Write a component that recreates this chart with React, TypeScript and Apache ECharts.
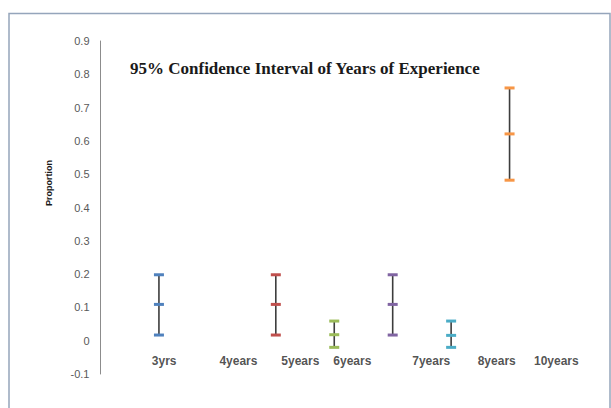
import React, { useEffect, useRef } from "react";
import * as echarts from "echarts";

// Category positions (slot index) of each interval and the x-axis labels
const intervalPositions = [0, 2, 3, 4, 5, 6];
const lows = [0.017, 0.017, -0.02, 0.017, -0.02, 0.482];
const mids = [0.109, 0.109, 0.018, 0.109, 0.016, 0.621];
const highs = [0.198, 0.198, 0.059, 0.198, 0.059, 0.759];
const palette = ["#4F81BD", "#C0504D", "#9BBB59", "#8064A2", "#4BACC6", "#F79646"];

const xLabels = ["3yrs", "4years", "5years", "6years", "7years", "8years", "10years"];
const xLabelPositions = [0.09, 1.36, 2.42, 3.31, 4.66, 5.78, 6.8];
const xLabelLevel = -0.062;

const yTicks = [-0.1, 0, 0.1, 0.2, 0.3, 0.4, 0.5, 0.6, 0.7, 0.8, 0.9];

export default function App() {
  const ref = useRef<HTMLDivElement>(null);
  useEffect(() => {
    document.body.style.margin = "0";
    const chart = echarts.init(ref.current!, null, { renderer: "svg" });
    const intervalData = intervalPositions.map((x, i) => [x, lows[i], mids[i], highs[i], i]);
    const labelData = xLabels.map((name, i) => ({ name, value: [xLabelPositions[i], xLabelLevel] }));
    chart.setOption({
      animation: false,
      backgroundColor: "#ffffff",
      grid: { left: 100.5, right: 43, top: 41, bottom: 34 },
      xAxis: { type: "value", min: -1, max: 7, show: false },
      yAxis: {
        type: "value",
        min: yTicks[0],
        max: yTicks[yTicks.length - 1],
        interval: 0.1,
        axisLine: { show: true, onZero: false, lineStyle: { color: "#8c8c8c", width: 1 } },
        axisTick: { show: false },
        splitLine: { show: false },
        axisLabel: {
          color: "#595959",
          fontFamily: "Liberation Sans",
          fontSize: 11,
          margin: 11,
          formatter: (v: number) => {
            const r = Math.round(v * 10) / 10;
            return r === 0 ? "0" : r.toFixed(1);
          },
        },
      },
      graphic: [
        {
          type: "rect",
          shape: { x: 9, y: 13.5, width: 601, height: 420 },
          style: { fill: "none", stroke: "#95a5bb", lineWidth: 1.5 },
          silent: true,
        },
        {
          type: "text",
          x: 130,
          y: 68,
          style: {
            text: "95% Confidence Interval of Years of Experience",
            font: "bold 17px 'Liberation Serif'",
            fill: "#1a1a1a",
            verticalAlign: "middle",
            align: "left",
          },
        },
        {
          type: "text",
          x: 49,
          y: 183,
          rotation: Math.PI / 2,
          style: {
            text: "Proportion",
            font: "bold 9px 'Liberation Sans'",
            fill: "#1a1a1a",
            align: "center",
            verticalAlign: "middle",
          },
        },
      ],
      series: [
        {
          type: "custom",
          data: intervalData,
          renderItem: (params: any, api: any) => {
            const x = api.value(0);
            const pLow = api.coord([x, api.value(1)]);
            const pMid = api.coord([x, api.value(2)]);
            const pHigh = api.coord([x, api.value(3)]);
            const color = palette[api.value(4)];
            const cap = (p: number[]) => ({
              type: "rect",
              shape: { x: p[0] - 5, y: p[1] - 1.5, width: 10, height: 3 },
              style: { fill: color },
            });
            return {
              type: "group",
              children: [
                {
                  type: "line",
                  shape: { x1: pHigh[0], y1: pHigh[1], x2: pLow[0], y2: pLow[1] },
                  style: { stroke: "#3d3d3d", lineWidth: 1.6 },
                },
                cap(pHigh),
                cap(pMid),
                cap(pLow),
              ],
            };
          },
        },
        {
          type: "scatter",
          data: labelData,
          symbolSize: 0,
          silent: true,
          label: {
            show: true,
            position: "inside",
            formatter: (p: any) => p.name,
            color: "#262626",
            fontFamily: "Liberation Sans",
            fontWeight: "bold",
            fontSize: 12,
          },
        },
      ],
    });
    return () => chart.dispose();
  }, []);
  return <div ref={ref} style={{ width: 611, height: 408, position: "absolute", left: 0, top: 0 }} />;
}
